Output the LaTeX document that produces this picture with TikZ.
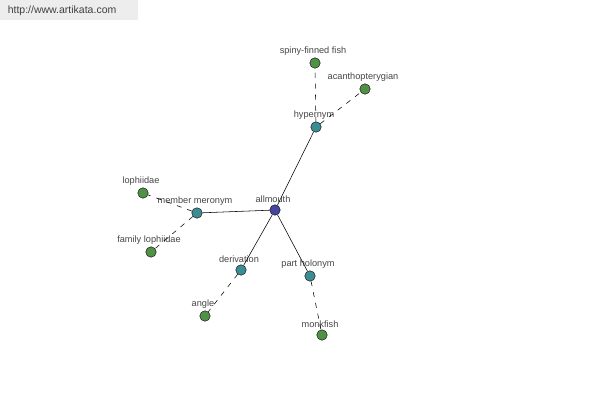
\documentclass[tikz,border=0pt]{standalone}
\usepackage{fontspec}
\setmainfont{Liberation Sans}
\definecolor{rootblue}{RGB}{70,70,160}
\definecolor{relteal}{RGB}{60,140,145}
\definecolor{leafgreen}{RGB}{80,145,70}
\definecolor{lblgray}{RGB}{70,70,70}
\tikzset{
  dot/.style={circle,draw=black,line width=0.4pt,minimum size=10.5pt,inner sep=0pt},
  rootdot/.style={dot,fill=rootblue},
  reldot/.style={dot,fill=relteal},
  leafdot/.style={dot,fill=leafgreen},
  lbl/.style={font=\fontsize{9.2}{10}\selectfont,text=lblgray,inner sep=0.6pt},
  every label/.style={lbl,xshift=-2pt},
  label distance=1.5pt,
  link/.style={draw=black,line width=0.55pt},
  sublink/.style={link,dash pattern=on 5pt off 6pt}
}
\begin{document}
\begin{tikzpicture}[x=1pt,y=-1pt]
    \useasboundingbox (0,0) rectangle (600,400);
    \fill[white] (0,0) rectangle (600,400);
    % banner
    \fill[black!7] (0,0) rectangle (138,20);
    \node[lbl,anchor=west,text=black!75,font=\fontsize{10.5}{11}\selectfont] (site) at (7,11) {http://www.artikata.com};
    %
    \node[rootdot,label=above:allmouth] (allmouth) at (275,210) {};
    %
    \node[reldot,label=above:hypernym] (hypernym) at (316,127) {};
    \node[reldot,label=above:member meronym] (meronym) at (197,213) {};
    \node[reldot,label=above:derivation] (derivation) at (241,270) {};
    \node[reldot,label=above:part holonym] (holonym) at (310,276) {};
    %
    \node[leafdot,label=above:spiny-finned fish] (spiny) at (315,63) {};
    \node[leafdot,label=above:acanthopterygian] (acantho) at (365,89) {};
    \node[leafdot,label=above:lophiidae] (lophiidae) at (143,193) {};
    \node[leafdot,label=above:family lophiidae] (family) at (151,252) {};
    \node[leafdot,label=above:angle] (angle) at (205,316) {};
    \node[leafdot,label=above:monkfish] (monkfish) at (322,335) {};
    %
    \path[link] (allmouth) -- (hypernym);
    \path[link] (allmouth) -- (meronym);
    \path[link] (allmouth) -- (derivation);
    \path[link] (allmouth) -- (holonym);
    %
    \path[sublink] (hypernym) -- (spiny);
    \path[sublink] (hypernym) -- (acantho);
    \path[sublink] (meronym) -- (lophiidae);
    \path[sublink] (meronym) -- (family);
    \path[sublink] (derivation) -- (angle);
    \path[sublink] (holonym) -- (monkfish);
\end{tikzpicture}
\end{document}
